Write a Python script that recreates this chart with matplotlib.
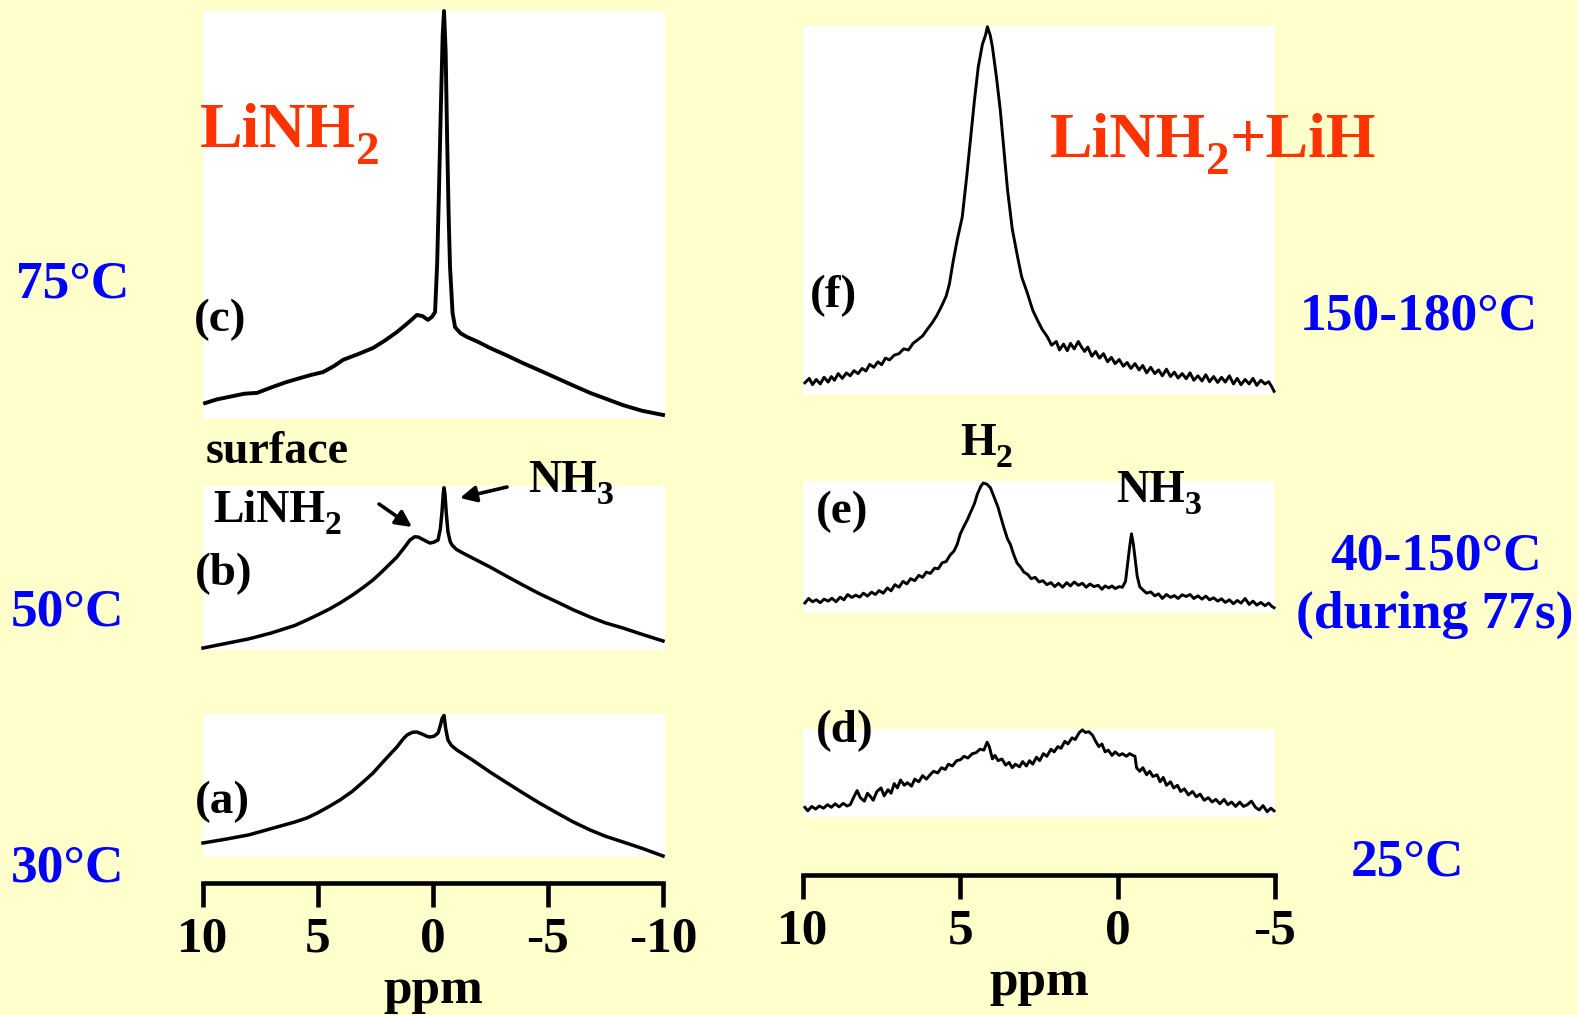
import numpy as np
import matplotlib
matplotlib.use("Agg")
import matplotlib.pyplot as plt

plt.rcParams['font.family'] = ['Liberation Serif', 'DejaVu Serif']
plt.rcParams['font.weight'] = 'bold'
plt.rcParams['axes.unicode_minus'] = False

W, H = 1577, 1015
BG = '#FFFFCC'
BLUE = '#0000FF'
RED = '#FF3300'

# ---- spectra: ppm and relative intensity (fraction of panel height) ----
# (c) LiNH2 75C
c_ppm = [9.91, 9.40, 8.80, 8.20, 7.65, 7.00, 6.40, 5.80, 5.30, 4.78, 4.30, 3.91, 3.30,
         2.61, 2.10, 1.57, 1.10, 0.70, 0.45, 0.22, 0.05, -0.09, -0.18, -0.26, -0.34,
         -0.42, -0.48, -0.55, -0.61, -0.68, -0.74, -0.85, -0.96, -1.20, -1.48, -2.00,
         -2.48, -3.20, -3.91, -4.60, -5.39, -6.10, -6.83, -7.50, -8.26, -9.10, -10.0]
c_int = [0.039, 0.048, 0.055, 0.062, 0.064, 0.078, 0.090, 0.100, 0.108, 0.115, 0.130,
         0.145, 0.158, 0.174, 0.192, 0.213, 0.235, 0.255, 0.252, 0.243, 0.250, 0.262,
         0.380, 0.560, 0.760, 0.940, 1.000, 0.900, 0.701, 0.500, 0.373, 0.260, 0.225,
         0.210, 0.201, 0.188, 0.174, 0.156, 0.137, 0.120, 0.100, 0.082, 0.064, 0.050,
         0.034, 0.020, 0.010]

# (b) LiNH2 50C
b_ppm = [10.0, 9.0, 8.0, 7.0, 6.0, 5.48, 5.0, 4.5, 4.04, 3.5, 3.0, 2.61, 2.2, 1.8, 1.57,
         1.3, 1.0, 0.8, 0.65, 0.45, 0.25, 0.13, -0.05, -0.22, -0.32, -0.39, -0.45, -0.48,
         -0.52, -0.58, -0.65, -0.75, -0.83, -1.0, -1.30, -1.8, -2.48, -3.2, -3.91, -4.6,
         -5.39, -6.1, -6.83, -7.5, -8.26, -9.1, -10.0]
b_int = [0.012, 0.040, 0.068, 0.105, 0.150, 0.183, 0.215, 0.250, 0.287, 0.335, 0.385,
         0.427, 0.480, 0.535, 0.567, 0.615, 0.671, 0.690, 0.689, 0.675, 0.660, 0.652,
         0.658, 0.671, 0.740, 0.840, 0.960, 0.990, 0.950, 0.830, 0.720, 0.660, 0.640,
         0.615, 0.591, 0.555, 0.506, 0.450, 0.396, 0.345, 0.293, 0.245, 0.201, 0.165,
         0.134, 0.095, 0.055]

# (a) LiNH2 30C
a_ppm = [10.0, 9.0, 8.0, 7.0, 6.0, 5.48, 5.0, 4.5, 4.04, 3.5, 3.0, 2.61, 2.2, 1.8, 1.57,
         1.3, 1.13, 0.9, 0.70, 0.45, 0.25, 0.13, -0.05, -0.22, -0.32, -0.40, -0.48, -0.55,
         -0.65, -0.80, -1.04, -1.7, -2.48, -3.2, -3.91, -4.6, -5.39, -6.1, -6.83, -7.5,
         -8.26, -9.1, -10.0]
a_int = [0.098, 0.125, 0.155, 0.200, 0.245, 0.273, 0.310, 0.355, 0.399, 0.460, 0.530,
         0.587, 0.660, 0.730, 0.769, 0.825, 0.853, 0.872, 0.874, 0.858, 0.843, 0.839,
         0.845, 0.867, 0.920, 0.970, 0.990, 0.900, 0.818, 0.780, 0.748, 0.680, 0.594,
         0.520, 0.448, 0.380, 0.308, 0.245, 0.189, 0.145, 0.105, 0.060, 0.007]

# (f) LiNH2+LiH 150-180C
f_ppm = [9.94, 9.80, 9.70, 9.58, 9.45, 9.33, 9.20, 9.10, 9.00, 8.88, 8.75, 8.62, 8.50,
         8.38, 8.25, 8.12, 8.00, 7.88, 7.75, 7.62, 7.50, 7.38, 7.25, 7.10, 6.95, 6.80,
         6.65, 6.50, 6.35, 6.20, 6.05, 5.90, 5.75, 5.60, 5.45, 5.35, 5.22, 5.10, 4.94,
         4.80, 4.68, 4.55, 4.43, 4.30, 4.20, 4.14, 4.05, 3.98, 3.85, 3.73, 3.60, 3.50,
         3.35, 3.18, 3.05, 2.87, 2.70, 2.55, 2.40, 2.23, 2.10, 1.95, 1.85, 1.72, 1.60,
         1.50, 1.38, 1.25, 1.15, 1.05, 0.95, 0.82, 0.70, 0.58, 0.45, 0.32, 0.20, 0.08,
         -0.05, -0.18, -0.30, -0.42, -0.55, -0.68, -0.80, -0.92, -1.05, -1.18, -1.30,
         -1.42, -1.55, -1.68, -1.80, -1.92, -2.05, -2.18, -2.30, -2.42, -2.55, -2.68,
         -2.80, -2.92, -3.05, -3.18, -3.30, -3.42, -3.55, -3.68, -3.80, -3.92, -4.05,
         -4.18, -4.30, -4.42, -4.55, -4.68, -4.80, -4.90, -4.97]
f_int = [0.033, 0.045, 0.028, 0.042, 0.030, 0.048, 0.035, 0.050, 0.040, 0.058, 0.045,
         0.060, 0.052, 0.066, 0.058, 0.072, 0.065, 0.083, 0.075, 0.090, 0.082, 0.100,
         0.095, 0.108, 0.112, 0.125, 0.122, 0.140, 0.150, 0.160, 0.178, 0.195, 0.215,
         0.240, 0.268, 0.300, 0.366, 0.420, 0.482, 0.590, 0.691, 0.800, 0.889, 0.950,
         0.975, 0.998, 0.975, 0.943, 0.860, 0.772, 0.650, 0.556, 0.450, 0.374, 0.320,
         0.276, 0.230, 0.203, 0.178, 0.157, 0.135, 0.145, 0.122, 0.138, 0.120, 0.140,
         0.125, 0.145, 0.130, 0.118, 0.130, 0.105, 0.118, 0.100, 0.112, 0.090, 0.102,
         0.085, 0.096, 0.078, 0.088, 0.072, 0.085, 0.068, 0.080, 0.060, 0.075, 0.058,
         0.068, 0.052, 0.070, 0.050, 0.062, 0.046, 0.058, 0.044, 0.060, 0.040, 0.052,
         0.038, 0.055, 0.036, 0.050, 0.034, 0.048, 0.035, 0.052, 0.030, 0.045, 0.028,
         0.042, 0.030, 0.045, 0.026, 0.040, 0.030, 0.036, 0.022, 0.010]

# (e) LiNH2+LiH 40-150C
e_ppm = [9.94, 9.82, 9.70, 9.58, 9.45, 9.33, 9.20, 9.08, 8.95, 8.82, 8.70, 8.58, 8.45,
         8.32, 8.20, 8.08, 7.95, 7.82, 7.70, 7.58, 7.45, 7.32, 7.20, 7.08, 6.95, 6.82,
         6.70, 6.58, 6.45, 6.32, 6.20, 6.08, 5.95, 5.82, 5.70, 5.58, 5.45, 5.32, 5.20,
         5.10, 5.00, 4.90, 4.78, 4.68, 4.55, 4.46, 4.35, 4.27, 4.15, 4.04, 3.90, 3.80,
         3.73, 3.62, 3.50, 3.41, 3.30, 3.20, 3.09, 2.98, 2.85, 2.75, 2.62, 2.50, 2.38,
         2.25, 2.12, 2.00, 1.88, 1.75, 1.62, 1.50, 1.38, 1.25, 1.12, 1.00, 0.88, 0.75,
         0.62, 0.50, 0.40, 0.28, 0.18, 0.08, -0.05, -0.15, -0.25, -0.32, -0.38, -0.44,
         -0.50, -0.56, -0.62, -0.70, -0.80, -0.92, -1.05, -1.18, -1.30, -1.42, -1.55,
         -1.68, -1.80, -1.92, -2.05, -2.18, -2.30, -2.42, -2.55, -2.68, -2.80, -2.92,
         -3.05, -3.18, -3.30, -3.42, -3.55, -3.68, -3.80, -3.92, -4.05, -4.18, -4.30,
         -4.42, -4.55, -4.68, -4.80, -4.90, -4.97]
e_int = [0.076, 0.110, 0.085, 0.100, 0.078, 0.105, 0.090, 0.112, 0.085, 0.120, 0.100,
         0.140, 0.118, 0.135, 0.120, 0.150, 0.128, 0.158, 0.140, 0.170, 0.150, 0.190,
         0.168, 0.215, 0.195, 0.240, 0.220, 0.260, 0.245, 0.285, 0.270, 0.310, 0.300,
         0.340, 0.335, 0.380, 0.390, 0.440, 0.470, 0.520, 0.600, 0.650, 0.705, 0.760,
         0.830, 0.900, 0.960, 0.985, 0.975, 0.947, 0.860, 0.800, 0.740, 0.650, 0.560,
         0.520, 0.440, 0.380, 0.348, 0.310, 0.290, 0.260, 0.270, 0.235, 0.245, 0.215,
         0.230, 0.200, 0.225, 0.195, 0.230, 0.205, 0.235, 0.210, 0.225, 0.195, 0.220,
         0.200, 0.210, 0.180, 0.205, 0.190, 0.205, 0.185, 0.200, 0.195, 0.240, 0.380,
         0.500, 0.600, 0.520, 0.400, 0.280, 0.200, 0.175, 0.150, 0.160, 0.130, 0.145,
         0.110, 0.140, 0.118, 0.132, 0.110, 0.138, 0.125, 0.140, 0.110, 0.130, 0.105,
         0.128, 0.100, 0.115, 0.090, 0.108, 0.080, 0.100, 0.070, 0.095, 0.075, 0.110,
         0.065, 0.090, 0.060, 0.080, 0.055, 0.075, 0.050, 0.040]

# (d) LiNH2+LiH 25C
d_ppm = [9.94, 9.85, 9.72, 9.60, 9.48, 9.35, 9.22, 9.10, 8.98, 8.85, 8.72, 8.60, 8.50,
         8.38, 8.28, 8.18, 8.05, 7.95, 7.85, 7.77, 7.65, 7.52, 7.42, 7.30, 7.20, 7.10,
         7.00, 6.90, 6.78, 6.68, 6.55, 6.45, 6.32, 6.20, 6.08, 5.96, 5.85, 5.72, 5.60,
         5.48, 5.38, 5.25, 5.12, 5.00, 4.88, 4.76, 4.62, 4.50, 4.38, 4.25, 4.15, 4.08,
         3.98, 3.90, 3.80, 3.68, 3.56, 3.45, 3.35, 3.25, 3.12, 3.02, 2.90, 2.80, 2.70,
         2.58, 2.48, 2.36, 2.25, 2.12, 2.02, 1.90, 1.80, 1.68, 1.58, 1.45, 1.35, 1.22,
         1.12, 1.02, 0.92, 0.80, 0.70, 0.60, 0.50, 0.40, 0.30, 0.18, 0.08, -0.05, -0.15,
         -0.28, -0.38, -0.48, -0.55, -0.60, -0.70, -0.80, -0.92, -1.02, -1.12, -1.25,
         -1.35, -1.45, -1.55, -1.68, -1.78, -1.90, -2.00, -2.12, -2.25, -2.38, -2.50,
         -2.62, -2.75, -2.88, -3.00, -3.12, -3.25, -3.38, -3.50, -3.62, -3.75, -3.88,
         -4.00, -4.12, -4.25, -4.38, -4.50, -4.62, -4.75, -4.87, -4.97]
d_int = [0.110, 0.070, 0.120, 0.090, 0.125, 0.100, 0.140, 0.110, 0.150, 0.115, 0.155,
         0.125, 0.140, 0.230, 0.300, 0.220, 0.180, 0.270, 0.230, 0.190, 0.290, 0.330,
         0.240, 0.310, 0.270, 0.380, 0.330, 0.420, 0.360, 0.390, 0.350, 0.430, 0.400,
         0.470, 0.430, 0.480, 0.520, 0.500, 0.560, 0.540, 0.600, 0.580, 0.640, 0.650,
         0.690, 0.670, 0.720, 0.730, 0.770, 0.760, 0.850, 0.800, 0.660, 0.700, 0.640,
         0.660, 0.590, 0.620, 0.560, 0.600, 0.570, 0.630, 0.580, 0.640, 0.600, 0.680,
         0.640, 0.720, 0.690, 0.770, 0.740, 0.800, 0.780, 0.860, 0.830, 0.900, 0.880,
         0.960, 0.990, 0.960, 0.970, 0.930, 0.860, 0.800, 0.830, 0.740, 0.760, 0.700,
         0.740, 0.700, 0.720, 0.690, 0.720, 0.700, 0.690, 0.560, 0.520, 0.560, 0.480,
         0.520, 0.460, 0.480, 0.400, 0.450, 0.360, 0.400, 0.330, 0.360, 0.290, 0.320,
         0.250, 0.290, 0.230, 0.260, 0.190, 0.220, 0.170, 0.200, 0.150, 0.200, 0.140,
         0.170, 0.120, 0.170, 0.120, 0.140, 0.180, 0.110, 0.080, 0.130, 0.060, 0.100,
         0.070]

left_ticks = [10, 5, 0, -5, -10]
left_labels = ['10', '5', '0', '-5', '-10']
right_ticks = [10, 5, 0, -5]
right_labels = ['10', '5', '0', '-5']

# ---- layout helpers (pixel boxes, top-left origin) ----
def rect(x0, y0, x1, y1):
    return [x0 / W, 1 - y1 / H, (x1 - x0) / W, (y1 - y0) / H]

fig = plt.figure(figsize=(W / 100, H / 100), dpi=100)
fig.patch.set_facecolor(BG)

L_PX = 23.0      # px per ppm on the left scale
R_PX = 472 / 15  # px per ppm on the right scale

def panel(box, ppm, inten, px_per_ppm, lw):
    ax = fig.add_axes(rect(*box))
    ax.set_facecolor('white')
    ax.plot(ppm, inten, color='black', lw=lw, clip_on=False, solid_joinstyle='round')
    ax.set_xlim(10, 10 - (box[2] - box[0]) / px_per_ppm)
    ax.set_ylim(0, 1)
    for s in ax.spines.values():
        s.set_visible(False)
    ax.set_xticks([])
    ax.set_yticks([])
    return ax

panel((203, 11, 665, 419), c_ppm, c_int, L_PX, 2.8)
panel((203, 486, 665, 650), b_ppm, b_int, L_PX, 2.5)
panel((203, 714, 665, 857), a_ppm, a_int, L_PX, 2.5)
panel((803, 26, 1275, 395), f_ppm, f_int, R_PX, 2.1)
panel((803, 481, 1275, 613), e_ppm, e_int, R_PX, 2.1)
panel((803, 729, 1275, 817), d_ppm, d_int, R_PX, 2.1)

def scale_bar(x0, x1, y, lo, hi, ticks, labels):
    ax = fig.add_axes(rect(x0, y - 1, x1, y))
    ax.set_facecolor('none')
    ax.set_xlim(lo, hi)
    ax.set_yticks([])
    for k in ('top', 'left', 'right'):
        ax.spines[k].set_visible(False)
    ax.spines['bottom'].set_linewidth(3.3)
    ax.spines['bottom'].set_capstyle('projecting')
    ax.set_xticks(ticks)
    ax.set_xticklabels(labels, fontsize=37, fontweight='bold')
    ax.tick_params(axis='x', direction='out', length=17, width=3.3, pad=7)
    ax.set_xlabel('ppm', fontsize=37, fontweight='bold', labelpad=4)
    return ax

scale_bar(203, 663, 883, 10, -10, left_ticks, left_labels)
scale_bar(803, 1275, 875, 10, -5, right_ticks, right_labels)

# ---- overlay for all annotations in pixel coordinates ----
ov = fig.add_axes([0, 0, 1, 1], zorder=10)
ov.set_xlim(0, W)
ov.set_ylim(H, 0)
ov.axis('off')
ov.patch.set_alpha(0)
renderer = fig.canvas.get_renderer()

def txt(x, y, s, size, color='black', ha='left'):
    return ov.text(x, y, s, fontsize=size, color=color, ha=ha, va='baseline',
                   fontweight='bold')

def chem(x, y, parts, size, color='black'):
    # parts: list of (text, is_subscript); subscripts are drawn smaller and lower
    em = size * 100 / 72
    for s, sub in parts:
        if sub:
            t = txt(x, y + 0.27 * em, s, size * 0.74, color)
        else:
            t = txt(x, y, s, size, color)
        bb = t.get_window_extent(renderer)
        x = ov.transData.inverted().transform((bb.x1, bb.y0))[0]

chem(200, 147, [('LiNH', False), ('2', True)], 46, RED)
chem(1050, 157, [('LiNH', False), ('2', True), ('+LiH', False)], 46, RED)

txt(16, 297, '75°C', 38.5, BLUE)
txt(11, 625, '50°C', 38.5, BLUE)
txt(11, 882, '30°C', 38.5, BLUE)
txt(1300, 329, '150-180°C', 38.5, BLUE)
txt(1436, 570, '40-150°C', 38.5, BLUE, ha='center')
txt(1435, 628, '(during 77s)', 38.5, BLUE, ha='center')
txt(1351, 875, '25°C', 38.5, BLUE)

txt(194, 331, '(c)', 34)
txt(195, 585, '(b)', 34)
txt(195, 813, '(a)', 34)
txt(810, 307, '(f)', 34)
txt(816, 523, '(e)', 34)
txt(816, 742, '(d)', 34)

txt(206, 463, 'surface', 33)
chem(213, 522, [('LiNH', False), ('2', True)], 33)
chem(528, 492, [('NH', False), ('3', True)], 33)
chem(960, 455, [('H', False), ('2', True)], 33)
chem(1116, 502, [('NH', False), ('3', True)], 33)

arrow = dict(arrowstyle='-|>', color='black', lw=2.6, mutation_scale=24,
             shrinkA=0, shrinkB=0)
ov.annotate('', xy=(412, 527), xytext=(379, 504), arrowprops=arrow)
ov.annotate('', xy=(460, 498), xytext=(507, 487), arrowprops=arrow)

fig.savefig('out.png', dpi=100, facecolor=BG)
